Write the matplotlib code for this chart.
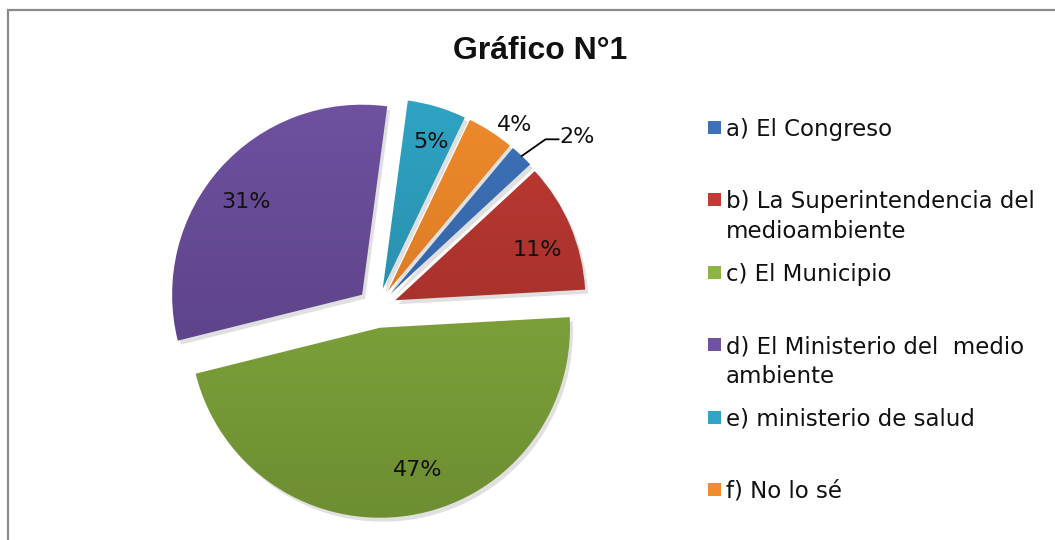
import numpy as np
import matplotlib
matplotlib.use("Agg")
import matplotlib.pyplot as plt
from matplotlib.patches import Rectangle, Wedge
from matplotlib.colors import to_rgb

# ---- data ----
labels = ["a) El Congreso",
          "b) La Superintendencia del\nmedioambiente",
          "c) El Municipio",
          "d) El Ministerio del  medio\nambiente",
          "e) ministerio de salud",
          "f) No lo sé"]
values = [2, 11, 47, 31, 5, 4]
pct_labels = ["2%", "11%", "47%", "31%", "5%", "4%"]
title = "Gráfico N°1"

colors_top = ["#3D72B8", "#C23A33", "#8DB443", "#7052A2", "#30A5C6", "#F08C2D"]
colors_bot = ["#2E5A98", "#8F2A26", "#6C8C31", "#513A79", "#227A93", "#C96B1D"]

FONT = "DejaVu Sans"

fig = plt.figure(figsize=(10.55, 5.4), dpi=100)
ax = fig.add_axes([0, 0, 1, 1])

# chart frame
ax.add_patch(Rectangle((7.5, -20), 1100, 550, fill=False, edgecolor="#8a8a8a", lw=1.6))

cx, cy, R = 377, 232, 190
explode = [0.105 * R] * len(values)
wedges, _ = ax.pie(values, radius=R, center=(cx, cy), startangle=50,
                   counterclock=False, explode=explode, frame=True,
                   wedgeprops=dict(linewidth=0))
ax.set_aspect("equal")

# gradient fill per wedge + shadow
for i, w in enumerate(wedges):
    w.set_facecolor("none")
    wc = w.center
    sh = Wedge((wc[0] + 3, wc[1] - 4), w.r, w.theta1, w.theta2,
               facecolor="#000000", alpha=0.12, lw=0, zorder=0.5)
    ax.add_patch(sh)
    t = np.linspace(0, 1, 256).reshape(-1, 1)
    c0 = np.array(to_rgb(colors_top[i]))
    c1 = np.array(to_rgb(colors_bot[i]))
    grad = (1 - t)[..., None] * c0 + t[..., None] * c1
    grad = np.repeat(grad, 2, axis=1)
    ext = (cx - R - 40, cx + R + 40, cy - R - 40, cy + R + 40)
    im = ax.imshow(grad, extent=ext, origin="upper", aspect="auto", zorder=1)
    im.set_clip_path(w)

ax.set_xlim(0, 1055)
ax.set_ylim(0, 540)
ax.axis("off")


def pos(w, dist, dang=0.0):
    th = np.deg2rad((w.theta1 + w.theta2) / 2 + dang)
    return (w.center[0] + dist * w.r * np.cos(th), w.center[1] + dist * w.r * np.sin(th))


# label placement (distance as fraction of radius, angular offset in degrees)
dists = [None, 0.79, 0.774, 0.78, 0.815, 1.1]
dangs = [0, -3.6, 6.4, 3.3, -1.6, -4.4]
for i, w in enumerate(wedges):
    if dists[i] is None:
        continue
    x, y = pos(w, dists[i], dangs[i])
    ax.text(x, y, pct_labels[i], ha="center", va="center", fontsize=16,
            color="#111111", family=FONT, zorder=3)

# 2% with leader line
wa = wedges[0]
p0 = pos(wa, 1.0)
p1 = pos(wa, 1.15, -1.5)
p2 = (p1[0] + 13, p1[1])
ax.plot([p0[0], p1[0], p2[0]], [p0[1], p1[1], p2[1]], color="black", lw=1.3, zorder=3)
ax.text(p2[0] + 1, p2[1] + 2, pct_labels[0], ha="left", va="center", fontsize=16,
        color="#111111", family=FONT, zorder=3)

# title
ax.text(540, 489, title, ha="center", va="center", fontsize=23, fontweight="bold",
        family="Liberation Sans", color="#111111")

# legend
lx, ly0, lstep = 708, 540 - 128, 72.4
for i, lab in enumerate(labels):
    y = ly0 - i * lstep
    ax.add_patch(Rectangle((lx, y - 6), 13, 13, facecolor=colors_top[i],
                           edgecolor="none"))
    ax.text(lx + 18, y + 10, lab, ha="left", va="top", fontsize=16.5,
            family=FONT, color="#111111", linespacing=1.38)

fig.savefig("out.png", dpi=100)
